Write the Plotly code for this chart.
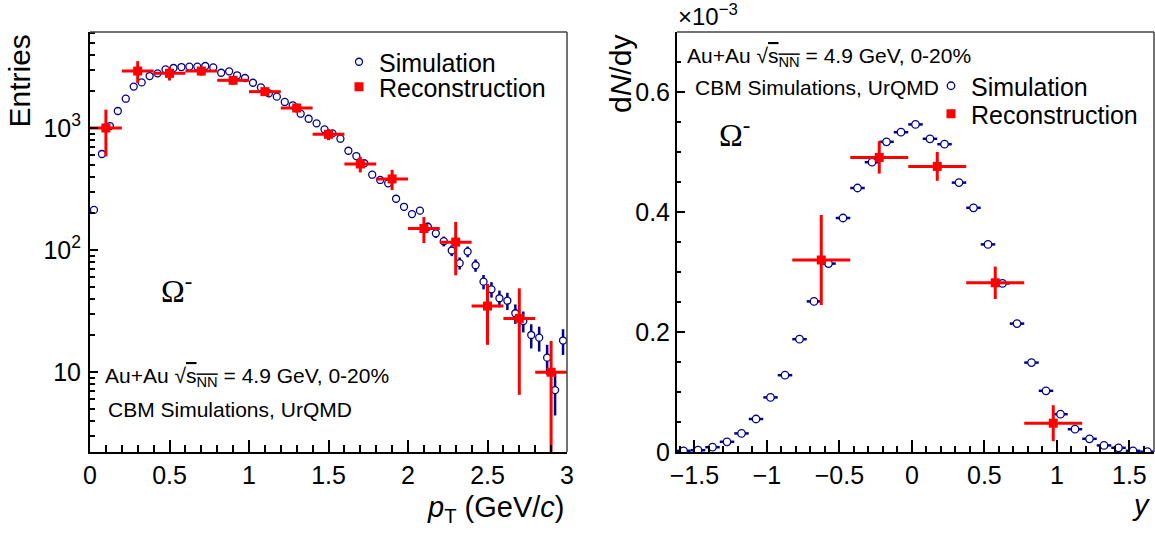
import plotly.graph_objects as go

W, H = 1155, 536

# ---------------- data: left panel (pT spectrum) ----------------
pt_sim = [0.025, 0.075, 0.125, 0.175, 0.225, 0.275, 0.325, 0.375, 0.425, 0.475,
          0.525, 0.575, 0.625, 0.675, 0.725, 0.775, 0.825, 0.875, 0.925, 0.975,
          1.025, 1.075, 1.125, 1.175, 1.225, 1.275, 1.325, 1.375, 1.425, 1.475,
          1.525, 1.575, 1.625, 1.675, 1.725, 1.775, 1.825, 1.875, 1.925, 1.975,
          2.025, 2.075, 2.125, 2.175, 2.225, 2.275, 2.325, 2.375, 2.425, 2.475,
          2.525, 2.575, 2.625, 2.675, 2.725, 2.775, 2.825, 2.875, 2.925, 2.975]
entries_sim = [213, 612, 1038, 1378, 1738, 2184, 2366, 2667, 2806, 3027,
               3105, 3160, 3188, 3188, 3224, 3140, 2837, 2916, 2704, 2570,
               2350, 2153, 1923, 1806, 1635, 1535, 1310, 1191, 1092, 975,
               904, 817, 651, 589, 514, 414, 375, 352, 263, 226,
               197, 210, 155, 137, 118, 99, 78, 97, 75, 55,
               47.6, 40.2, 38.4, 30.3, 26.2, 20.1, 19.1, 13.1, 7.1, 18.1]
entries_sim_err = [15, 25, 32, 37, 42, 47, 49, 52, 53, 55,
                   56, 56, 56, 56, 57, 56, 53, 54, 52, 51,
                   48, 46, 44, 42, 40, 39, 36, 35, 33, 31,
                   30, 29, 26, 24, 23, 20, 19, 19, 16, 15,
                   14, 14.5, 12.5, 11.7, 10.9, 10, 8.8, 9.8, 8.7, 7.4,
                   6.9, 6.3, 6.2, 5.5, 5.1, 4.5, 4.4, 3.6, 2.7, 4.3]

pt_rec = [0.1, 0.3, 0.5, 0.7, 0.9, 1.1, 1.3, 1.5, 1.7, 1.9, 2.1, 2.3, 2.5, 2.7, 2.9]
pt_rec_halfwidth = [0.1] * 15
entries_rec = [1000, 2930, 2806, 2930, 2460, 1986, 1459, 888, 507, 382, 150, 116, 34.7, 27.5, 9.95]
entries_rec_err = [415, 600, 355, 240, 190, 155, 125, 93, 75, 72, 36, 54, 18, 21, 8]

# ---------------- data: right panel (rapidity, units of 1e-3) ----------------
y_sim = [-1.575, -1.475, -1.375, -1.275, -1.175, -1.075, -0.975, -0.875, -0.775, -0.675,
         -0.575, -0.475, -0.375, -0.275, -0.175, -0.075, 0.025, 0.125, 0.225, 0.325,
         0.425, 0.525, 0.625, 0.725, 0.825, 0.925, 1.025, 1.125, 1.225, 1.325,
         1.425, 1.525, 1.625]
y_sim_halfwidth = [0.05] * 33
dndy_sim = [0.002, 0.003, 0.008, 0.017, 0.031, 0.055, 0.091, 0.128, 0.188, 0.251,
            0.314, 0.390, 0.440, 0.483, 0.517, 0.533, 0.546, 0.522, 0.513, 0.449,
            0.407, 0.346, 0.281, 0.214, 0.149, 0.102, 0.063, 0.038, 0.022, 0.011,
            0.007, 0.002, 0.0005]

y_rec = [-0.625, -0.225, 0.175, 0.575, 0.975]
y_rec_halfwidth = [0.2] * 5
dndy_rec = [0.320, 0.491, 0.476, 0.282, 0.048]
dndy_rec_err = [0.075, 0.027, 0.024, 0.027, 0.030]

# tick labels
pt_ticks = [0, 0.5, 1, 1.5, 2, 2.5, 3]
pt_ticktext = ["0", "0.5", "1", "1.5", "2", "2.5", "3"]
ent_ticks = [10, 100, 1000]
ent_ticktext = ["10", "10<sup>2</sup>", "10<sup>3</sup>"]
ent_minor = [3, 4, 5, 6, 7, 8, 9, 20, 30, 40, 50, 60, 70, 80, 90,
             200, 300, 400, 500, 600, 700, 800, 900, 2000, 3000, 4000, 5000, 6000]
rap_ticks = [-1.5, -1, -0.5, 0, 0.5, 1, 1.5]
rap_ticktext = ["\u22121.5", "\u22121", "\u22120.5", "0", "0.5", "1", "1.5"]
dndy_ticks = [0, 0.2, 0.4, 0.6]
dndy_ticktext = ["0", "0.2", "0.4", "0.6"]

SIM = "#00008f"
REC = "#ff0000"
FONT = "Liberation Sans"
SERIF = "Liberation Serif"

def px(x):
    return x / W

def py(y):
    return 1 - y / H

fig = go.Figure()

# left panel
fig.add_trace(go.Scatter(
    x=pt_sim, y=entries_sim, mode="markers", name="Simulation",
    error_y=dict(type="data", array=entries_sim_err, color=SIM, thickness=2.5, width=0),
    marker=dict(symbol="circle", size=7, color="white", line=dict(color=SIM, width=1.3)),
    xaxis="x", yaxis="y", legend="legend"))
fig.add_trace(go.Scatter(
    x=pt_rec, y=entries_rec, mode="markers", name="Reconstruction",
    error_x=dict(type="data", array=pt_rec_halfwidth, color=REC, thickness=3, width=0),
    error_y=dict(type="data", array=entries_rec_err, color=REC, thickness=3, width=0),
    marker=dict(symbol="square", size=9, color=REC),
    xaxis="x", yaxis="y", legend="legend2"))

# right panel
fig.add_trace(go.Scatter(
    x=y_sim, y=dndy_sim, mode="markers", name="Simulation",
    error_x=dict(type="data", array=y_sim_halfwidth, color=SIM, thickness=2.5, width=0),
    marker=dict(symbol="circle", size=7.5, color="white", line=dict(color=SIM, width=1.3)),
    xaxis="x2", yaxis="y2", legend="legend3"))
fig.add_trace(go.Scatter(
    x=y_rec, y=dndy_rec, mode="markers", name="Reconstruction",
    error_x=dict(type="data", array=y_rec_halfwidth, color=REC, thickness=3, width=0),
    error_y=dict(type="data", array=dndy_rec_err, color=REC, thickness=3, width=0),
    marker=dict(symbol="square", size=9, color=REC),
    xaxis="x2", yaxis="y2", legend="legend4"))

ydom = [py(452), py(32)]
tickfont = dict(family=FONT, size=25, color="black")
common = dict(showgrid=False, zeroline=False, showline=True, linecolor="black",
              linewidth=2, ticks="inside", tickcolor="black", tickwidth=1.5,
              tickfont=tickfont, mirror=False, automargin=False)

fig.update_layout(
    width=W, height=H,
    margin=dict(l=0, r=0, t=0, b=0, autoexpand=False),
    paper_bgcolor="white", plot_bgcolor="white",
    font=dict(family=FONT, color="black"),
    xaxis=dict(domain=[px(90), px(567)], range=[0, 3], anchor="y",
               tickmode="array", tickvals=pt_ticks, ticktext=pt_ticktext, ticklen=12,
               minor=dict(ticks="inside", dtick=0.1, tick0=0, ticklen=7, tickwidth=1.5, tickcolor="black"),
               ticklabelstandoff=0, **common),
    yaxis=dict(domain=ydom, type="log", range=[0.344, 3.787], anchor="x",
               tickmode="array", tickvals=ent_ticks, ticktext=ent_ticktext, ticklen=8,
               minor=dict(ticks="inside", tickmode="array", tickvals=ent_minor, ticklen=5,
                          tickwidth=1.5, tickcolor="black"),
               ticklabelstandoff=2, **common),
    xaxis2=dict(domain=[px(677), px(1154)], range=[-1.62, 1.67], anchor="y2",
                tickmode="array", tickvals=rap_ticks, ticktext=rap_ticktext, ticklen=12,
                minor=dict(ticks="inside", dtick=0.1, tick0=0, ticklen=6, tickwidth=1.5, tickcolor="black"),
                ticklabelstandoff=0, **common),
    yaxis2=dict(domain=ydom, range=[0, 0.7], anchor="x2",
                tickmode="array", tickvals=dndy_ticks, ticktext=dndy_ticktext, ticklen=8,
                minor=dict(ticks="inside", dtick=0.05, tick0=0, ticklen=4, tickwidth=1.5, tickcolor="black"),
                ticklabelstandoff=0, **common),
    showlegend=True,
)

leg_common = dict(xanchor="left", yanchor="middle", bgcolor="rgba(0,0,0,0)",
                  borderwidth=0, font=dict(family=FONT, size=25, color="black"),
                  itemwidth=30)
fig.update_layout(
    legend=dict(x=px(339), y=py(62), **leg_common),
    legend2=dict(x=px(339), y=py(87), **leg_common),
    legend3=dict(x=px(931), y=py(86), **leg_common),
    legend4=dict(x=px(931), y=py(114), **leg_common),
)

# frame (top/right)
for xd, yd in (("x domain", "y domain"), ("x2 domain", "y2 domain")):
    fig.add_shape(type="line", xref=xd, yref=yd, x0=0, x1=1, y0=1, y1=1,
                  line=dict(color="#444444", width=1.5))
    fig.add_shape(type="line", xref=xd, yref=yd, x0=1, x1=1, y0=0, y1=1,
                  line=dict(color="#444444", width=1.5))

def ann(text, x, y, size, xanchor="left", yanchor="middle", family=FONT, angle=0):
    fig.add_annotation(text=text, x=px(x), y=py(y), xref="paper", yref="paper",
                       xanchor=xanchor, yanchor=yanchor, showarrow=False,
                       textangle=angle, font=dict(family=family, size=size, color="black"))

sqrt_txt = "Au+Au \u221a<span style='text-decoration:overline'>s<sub>NN</sub></span> = 4.9 GeV, 0-20%"

# left panel texts
ann("Entries", 19, 33, 30, xanchor="center", yanchor="top", angle=-90)
ann("<i>p</i><sub>T</sub> (GeV/<i>c</i>)", 567, 509, 29, xanchor="right")
ann(sqrt_txt, 103, 377, 21)
ann("CBM Simulations, UrQMD", 106, 409, 21)
ann("\u03a9<sup>-</sup>", 159, 289, 32, family=SERIF)

# right panel texts
ann("d<i>N</i>/dy", 620, 33, 30, xanchor="center", yanchor="top", angle=-90)
ann("<i>y</i>", 1152, 505, 29, xanchor="right")
ann("\u00d710<sup>\u22123</sup>", 676, 15, 24)
ann(sqrt_txt, 685, 57, 21)
ann("CBM Simulations, UrQMD", 693, 87, 21)
ann("\u03a9<sup>-</sup>", 717, 133, 32, family=SERIF)

fig.write_html("out.html")
